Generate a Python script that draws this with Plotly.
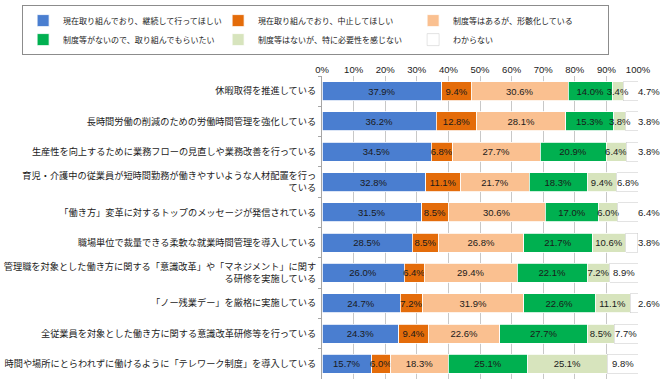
import plotly.graph_objects as go

categories = [
    "休暇取得を推進している",
    "長時間労働の削減のための労働時間管理を強化している",
    "生産性を向上するために業務フローの見直しや業務改善を行っている",
    "育児・介護中の従業員が短時間勤務が働きやすいような人材配置を行っ<br>ている",
    "「働き方」変革に対するトップのメッセージが発信されている",
    "職場単位で裁量できる柔軟な就業時間管理を導入している",
    "管理職を対象とした働き方に関する「意識改革」や「マネジメント」に関す<br>る研修を実施している",
    "「ノー残業デー」を厳格に実施している",
    "全従業員を対象とした働き方に関する意識改革研修等を行っている",
    "時間や場所にとらわれずに働けるように「テレワーク制度」を導入している",
]

series_names = [
    "現在取り組んでおり、継続して行ってほしい",
    "現在取り組んでおり、中止してほしい",
    "制度等はあるが、形骸化している",
    "制度等がないので、取り組んでもらいたい",
    "制度等はないが、特に必要性を感じない",
    "わからない",
]

continue_vals = [37.9, 36.2, 34.5, 32.8, 31.5, 28.5, 26.0, 24.7, 24.3, 15.7]
stop_vals     = [9.4, 12.8, 6.8, 11.1, 8.5, 8.5, 6.4, 7.2, 9.4, 6.0]
formal_vals   = [30.6, 28.1, 27.7, 21.7, 30.6, 26.8, 29.4, 31.9, 22.6, 18.3]
want_vals     = [14.0, 15.3, 20.9, 18.3, 17.0, 21.7, 22.1, 22.6, 27.7, 25.1]
noneed_vals   = [3.4, 3.8, 6.4, 9.4, 6.0, 10.6, 7.2, 11.1, 8.5, 25.1]
unknown_vals  = [4.7, 3.8, 3.8, 6.8, 6.4, 3.8, 8.9, 2.6, 7.7, 9.8]

tick_vals = [0, 10, 20, 30, 40, 50, 60, 70, 80, 90, 100]

series_values = [continue_vals, stop_vals, formal_vals, want_vals, noneed_vals, unknown_vals]
colors = ["#4A7ED0", "#E46C0A", "#FAC090", "#00B050", "#D7E4BD", "rgba(255,255,255,0)"]
line_colors = ["#FFFFFF"] * 5 + ["#C8C8C8"]
# small "わからない" labels sit just right of the bar end, as in the source
last_outside = [True, True, True, False, True, True, False, True, False, False]

JP = "Noto Sans CJK JP"
NUM = "Liberation Sans"
TXT = "#1A1A1A"
LBL = 9.5
X_MAX = 100

fig = go.Figure()
n = len(series_names)
for i, (name, vals, col, lc) in enumerate(zip(series_names, series_values, colors, line_colors)):
    is_last = i == n - 1
    fig.add_trace(go.Bar(
        y=categories,
        x=vals,
        name=name,
        orientation="h",
        marker=dict(color=col, line=dict(color=lc, width=0.5 if is_last else 0.8)),
        text=None if is_last else [f"{v:.1f}%" for v in vals],
        textposition="none" if is_last else "inside",
        insidetextanchor="middle",
        textangle=0,
        textfont=dict(family=NUM, size=LBL, color=TXT),
        cliponaxis=False,
    ))

# labels of the last series, placed from the stacked data
for j, cat in enumerate(categories):
    start = sum(s[j] for s in series_values[:-1])
    v = unknown_vals[j]
    if last_outside[j]:
        fig.add_annotation(x=min(start + v, X_MAX), y=cat, text=f"{v:.1f}%", showarrow=False,
                           xanchor="left", xshift=-2,
                           font=dict(family=NUM, size=LBL, color=TXT))
    else:
        fig.add_annotation(x=min(start + v / 2, X_MAX), y=cat, text=f"{v:.1f}%", showarrow=False,
                           xanchor="center",
                           font=dict(family=NUM, size=LBL, color=TXT))

fig.update_layout(
    width=663,
    height=384,
    barmode="stack",
    bargap=0.37,
    plot_bgcolor="#FFFFFF",
    paper_bgcolor="#FFFFFF",
    margin=dict(l=322, r=25, t=76, b=5, autoexpand=False),
    uniformtext=dict(minsize=LBL, mode="show"),
    showlegend=True,
    legend=dict(
        orientation="h",
        traceorder="normal",
        x=-0.949,
        xanchor="left",
        y=1.234,
        yanchor="top",
        font=dict(family=JP, size=8, color=TXT),
        bordercolor="#8C8C8C",
        borderwidth=1,
        bgcolor="#FFFFFF",
        entrywidth=150,
        itemwidth=30,
        tracegroupgap=0,
    ),
    xaxis=dict(
        side="top",
        range=[0, X_MAX],
        tickvals=tick_vals,
        ticktext=[f"{t}%" for t in tick_vals],
        showgrid=True,
        gridcolor="#C8C8C8",
        gridwidth=1,
        zeroline=False,
        showline=False,
        ticks="",
        tickfont=dict(family=NUM, size=9.5, color=TXT),
        automargin=False,
        fixedrange=True,
    ),
    yaxis=dict(
        autorange="reversed",
        showgrid=False,
        showline=True,
        linecolor="#A6A6A6",
        linewidth=1,
        ticks="outside",
        tickson="boundaries",
        ticklen=3,
        tickcolor="#A6A6A6",
        ticklabelstandoff=3,
        tickfont=dict(family=JP, size=9.2, color=TXT),
        automargin=False,
        fixedrange=True,
    ),
)

# remove the browser's default 8px page margin so the 663x384 figure fills the window
fig.write_html("out.html", config={"displayModeBar": False},
               post_script="document.body.style.margin='0';")
